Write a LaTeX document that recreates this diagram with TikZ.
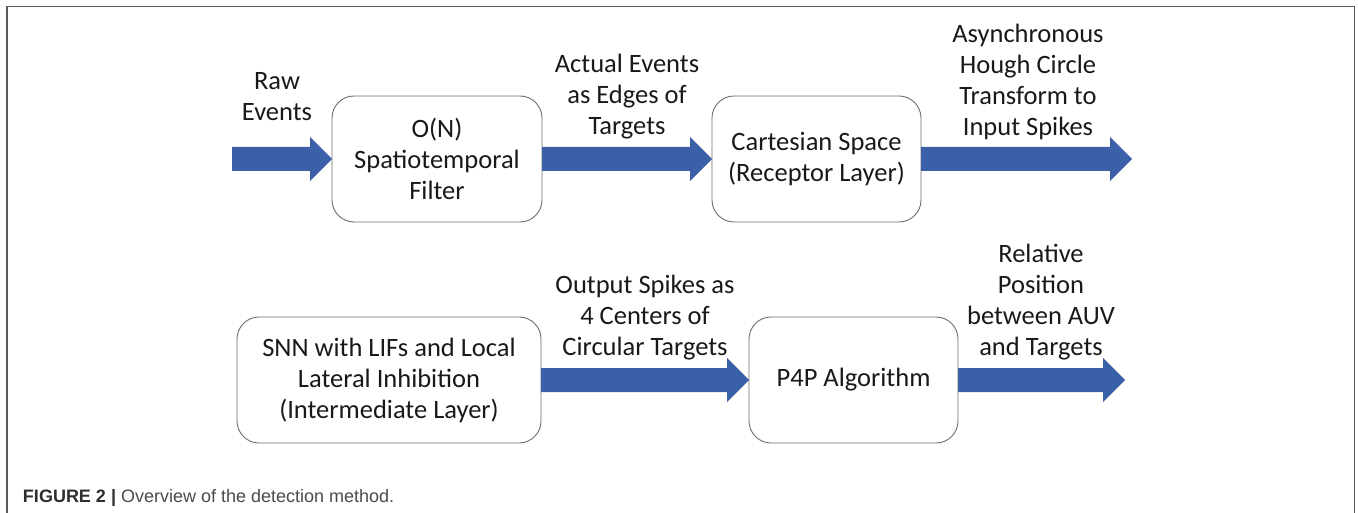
\documentclass[tikz,border=0pt]{standalone}
\usepackage{fontspec}
\setmainfont{Carlito}
\newfontfamily\capfont{Liberation Sans}
\usetikzlibrary{calc}
\definecolor{flowblue}{HTML}{3C60A8}
\definecolor{boxline}{HTML}{6E6E6E}
\definecolor{framegray}{HTML}{5A5A5A}
\definecolor{captext}{HTML}{4A4A4A}
\definecolor{capbold}{HTML}{2E2E2E}

% block arrow from point #1 to point #2 (tip at #2)
\newcommand\blockarrow[2]{%
  \fill[flowblue] ($(#1)+(0,-12)$) -- ($(#2)+(-22,-12)$) -- ($(#2)+(-22,-22)$) -- (#2)
    -- ($(#2)+(-22,22)$) -- ($(#2)+(-22,12)$) -- ($(#1)+(0,12)$) -- cycle;}

\begin{document}
\begin{tikzpicture}[x=1pt,y=-1pt,
  every node/.style={inner sep=0pt, outer sep=0pt, text=black!90},
  stage/.style={draw=boxline, line width=0.9pt, rounded corners=22pt, fill=white,
    align=center, font=\fontsize{26.5}{31}\selectfont},
  flowlabel/.style={align=center, font=\fontsize{26.5}{31}\selectfont}]
\useasboundingbox (0,0) rectangle (1358,513);

% outer frame
\draw[framegray, line width=1.3pt] (7,520) -- (7,6.5) -- (1354.5,6.5) -- (1354.5,520);

% processing stages
\node[stage, minimum width=210pt, minimum height=126pt] (filt) at (437,159)
  {O(N)\\Spatiotemporal\\Filter};
\node[stage, minimum width=209pt, minimum height=126pt] (cart) at (816.5,159)
  {Cartesian Space\\(Receptor Layer)};
\node[stage, minimum width=304pt, minimum height=126pt] (snn) at (389,380)
  {SNN with LIFs and Local\\Lateral Inhibition\\(Intermediate Layer)};
\node[stage, minimum width=209pt, minimum height=126pt] (pfp) at (853.5,380)
  {P4P Algorithm};

% free arrow ends
\coordinate (rawin) at (232,159);
\coordinate (houghout) at (1132,159);
\coordinate (posout) at (1125,380);

% block arrows
\blockarrow{rawin}{filt.west}
\blockarrow{filt.east}{cart.west}
\blockarrow{cart.east}{houghout}
\blockarrow{snn.east}{pfp.west}
\blockarrow{pfp.east}{posout}

% arrow labels
\node[flowlabel] (lraw) at (277,97) {Raw\\Events};
\node[flowlabel] (ledge) at (627,97) {Actual Events\\as Edges of\\Targets};
\node[flowlabel] (lhough) at (1028,82) {Asynchronous\\Hough Circle\\Transform to\\Input Spikes};
\node[flowlabel] (lspike) at (645,318) {Output Spikes as\\4 Centers of\\Circular Targets};
\node[flowlabel] (lpos) at (1041,302) {Relative\\Position\\between AUV\\and Targets};

% caption
\node[anchor=base west, font=\capfont\fontsize{18}{21}\selectfont] (cap) at (23,502)
  {\textcolor{capbold}{\bfseries FIGURE 2 |} \textcolor{captext}{Overview of the detection method.}};
\end{tikzpicture}
\end{document}
